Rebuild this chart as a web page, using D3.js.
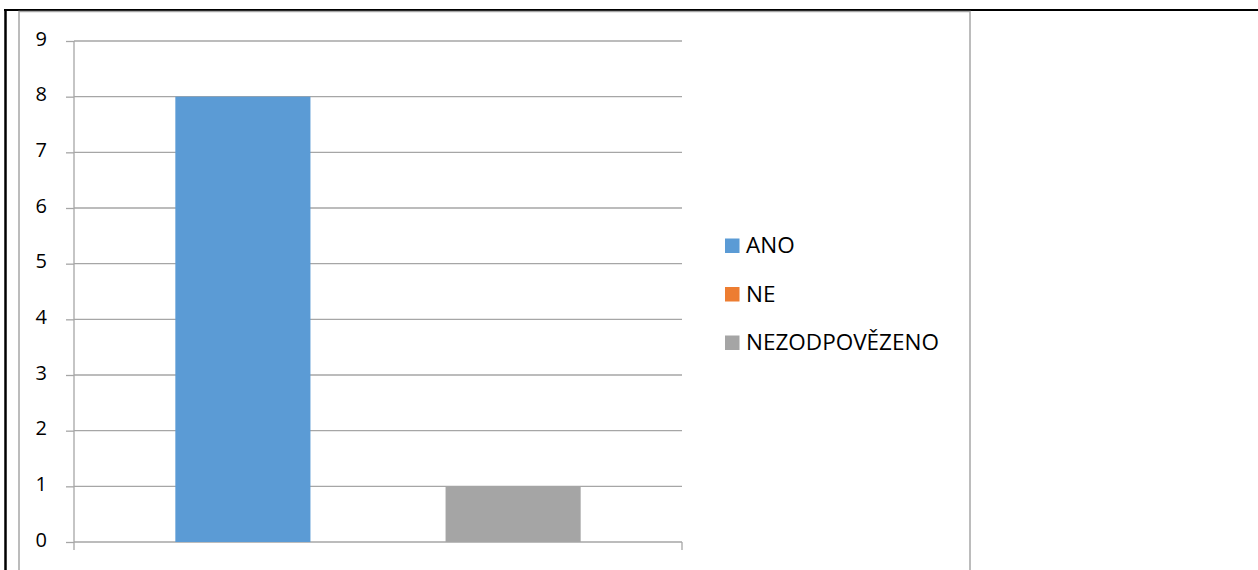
<!DOCTYPE html>
<html>
<head>
<meta charset="utf-8">
<script src="https://cdn.jsdelivr.net/npm/d3@7"></script>
<style>
  body { margin: 0; background: #fff; }
  text { font-family: "Open Sans", sans-serif; fill: #000; }
</style>
</head>
<body>
<svg id="chart" width="1258" height="570"></svg>
<script>
const categories = ["ANO", "NE", "NEZODPOVĚZENO"];
const values = [8, 0, 1];
const colors = ["#5b9bd5", "#ed7d31", "#a5a5a5"];
const yTicks = [0, 1, 2, 3, 4, 5, 6, 7, 8, 9];

const svg = d3.select("#chart");

// page frame lines
svg.append("line").attr("x1", 4).attr("x2", 1258).attr("y1", 10).attr("y2", 10)
  .attr("stroke", "#000").attr("stroke-width", 2);
svg.append("line").attr("x1", 5.5).attr("x2", 5.5).attr("y1", 9).attr("y2", 570)
  .attr("stroke", "#000").attr("stroke-width", 2.5);
svg.append("path").attr("d", "M19,570V11.5H970V570")
  .attr("fill", "none").attr("stroke", "#a6a6a6").attr("stroke-width", 1.5);

const plotL = 74, plotR = 682, plotT = 41, plotB = 542;

const x = d3.scaleBand().domain(categories).range([plotL, plotR])
  .paddingInner(0).paddingOuter(0.75);
const y = d3.scaleLinear().domain([0, 9]).range([plotB, plotT]);

// gridlines
svg.append("g").selectAll("line").data(yTicks).enter().append("line")
  .attr("x1", plotL).attr("x2", plotR)
  .attr("y1", d => y(d)).attr("y2", d => y(d))
  .attr("stroke", "#a6a6a6").attr("stroke-width", 1.3);

// bars
svg.append("g").selectAll("rect").data(categories).enter().append("rect")
  .attr("x", d => x(d))
  .attr("width", x.bandwidth())
  .attr("y", (d, i) => y(values[i]))
  .attr("height", (d, i) => y(0) - y(values[i]))
  .attr("fill", (d, i) => colors[i]);

// y axis
const yAxis = svg.append("g").attr("transform", `translate(${plotL},0)`)
  .call(d3.axisLeft(y).tickValues(yTicks).tickSize(8).tickSizeOuter(0).tickPadding(19).tickFormat(d3.format("d")));
yAxis.attr("font-size", null).attr("font-family", null);
yAxis.select(".domain").remove();
yAxis.selectAll("line").attr("stroke", "#a6a6a6").attr("stroke-width", 1.3);
yAxis.selectAll("text").style("font-size", "20px").attr("dy", "0.2em").attr("fill", "#000");
svg.append("line").attr("x1", plotL).attr("x2", plotL).attr("y1", plotT).attr("y2", plotB + 8)
  .attr("stroke", "#a6a6a6").attr("stroke-width", 1.3);
svg.append("line").attr("x1", plotR).attr("x2", plotR).attr("y1", plotB).attr("y2", plotB + 8)
  .attr("stroke", "#a6a6a6").attr("stroke-width", 1.3);

// legend
const legend = svg.append("g").selectAll("g").data(categories).enter().append("g")
  .attr("transform", (d, i) => `translate(725,${253 + i * 48.5})`);
legend.append("rect").attr("x", 0).attr("y", -14.5).attr("width", 14.5).attr("height", 14.5)
  .attr("fill", (d, i) => colors[i]);
legend.append("text").attr("x", 21).attr("y", 0).style("font-size", "22.5px").text(d => d);
</script>
</body>
</html>
